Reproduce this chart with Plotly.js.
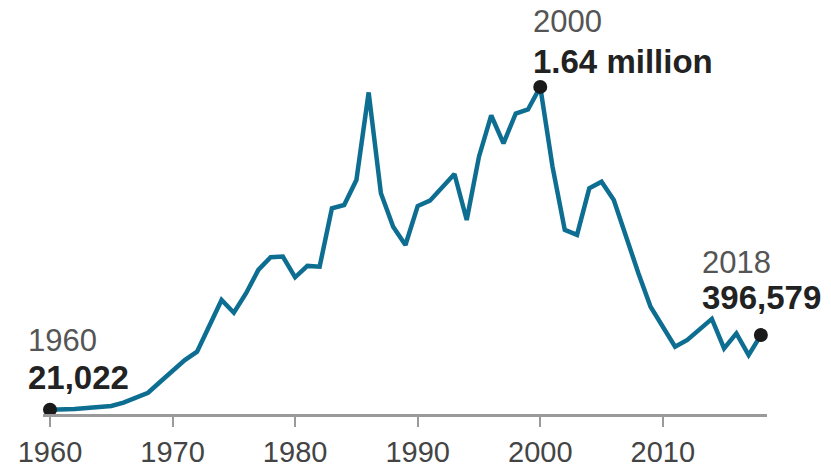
<!DOCTYPE html>
<html>
<head>
<meta charset="utf-8">
<script src="https://cdn.plot.ly/plotly-3.0.1.min.js"></script>
<style>
html,body{margin:0;padding:0;background:#fff;}
#chart{width:831px;height:468px;}
</style>
</head>
<body>
<div id="chart"></div>
<script>
// Southwest border apprehensions, fiscal years 1960-2018
const years = [];
for (let y = 1960; y <= 2018; y++) years.push(y);
const apprehensions = [
  21022, 22000, 25000, 30000, 33000, 40000, 57000, 79000, 107000, 162000,
  215000, 271000, 313000, 439000, 573000, 509000, 607000, 724000, 788000, 791000,
  687000, 744000, 740000, 1034000, 1050000, 1176000, 1615844, 1109000, 941000, 849000,
  1045000, 1072000, 1142000, 1206000, 975000, 1293000, 1500000, 1360000, 1510000, 1530000,
  1643679, 1243000, 925000, 900000, 1134000, 1167000, 1075000, 884000, 709000, 539000,
  439000, 338000, 372000, 422000, 478000, 330000, 405000, 296000, 396579
];
const highlightYears = [1960, 2000, 2018];
const highlightYearLabels = ["1960", "2000", "2018"];
const highlightValueLabels = ["21,022", "1.64 million", "396,579"];
const tickYears = [1960, 1970, 1980, 1990, 2000, 2010];
const tickLabels = ["1960", "1970", "1980", "1990", "2000", "2010"];

const highlightValues = highlightYears.map(y => apprehensions[years.indexOf(y)]);

const FONT = "Liberation Sans, Arial, sans-serif";
const lineTrace = {
  x: years, y: apprehensions, type: "scatter", mode: "lines",
  line: {color: "#0e6e92", width: 4.5, shape: "linear"},
  hoverinfo: "skip", cliponaxis: false
};
const dotTrace = {
  x: highlightYears, y: highlightValues, type: "scatter", mode: "markers",
  marker: {color: "#1a1a1a", size: 14, line: {width: 0}},
  hoverinfo: "skip", cliponaxis: false
};

// annotation offsets (pixels relative to each dot)
const yearShifts = [[-24, 50], [-9, 46], [-61, 53]];
const valueShifts = [[-24, 12], [-9, 5], [-61, 17]];
const annotations = [];
highlightYears.forEach((yr, i) => {
  annotations.push({
    x: yr, y: highlightValues[i], xref: "x", yref: "y",
    text: highlightYearLabels[i], showarrow: false,
    xanchor: "left", yanchor: "bottom",
    xshift: yearShifts[i][0], yshift: yearShifts[i][1],
    font: {family: FONT, size: 31, color: "#555555"}
  });
  annotations.push({
    x: yr, y: highlightValues[i], xref: "x", yref: "y",
    text: "<b>" + highlightValueLabels[i] + "</b>", showarrow: false,
    xanchor: "left", yanchor: "bottom",
    xshift: valueShifts[i][0], yshift: valueShifts[i][1],
    font: {family: FONT, size: 33, color: "#222222"}
  });
});

const layout = {
  width: 831, height: 468,
  margin: {l: 43, r: 64, t: 10, b: 54, pad: 0},
  paper_bgcolor: "#ffffff", plot_bgcolor: "#ffffff",
  showlegend: false,
  xaxis: {
    range: [1959.43, 2018.5], tickvals: tickYears, ticktext: tickLabels,
    showgrid: false, zeroline: false, showline: true,
    linecolor: "#9a9a9a", linewidth: 3,
    ticks: "outside", ticklen: 10, tickwidth: 2, tickcolor: "#9a9a9a",
    tickfont: {family: FONT, size: 29, color: "#444444"},
    ticklabelstandoff: 0, fixedrange: true
  },
  yaxis: {
    range: [0, 2030000], visible: false, showgrid: false, zeroline: false, fixedrange: true
  },
  annotations: annotations
};

Plotly.newPlot("chart", [lineTrace, dotTrace], layout, {displayModeBar: false, staticPlot: true});
</script>
</body>
</html>
